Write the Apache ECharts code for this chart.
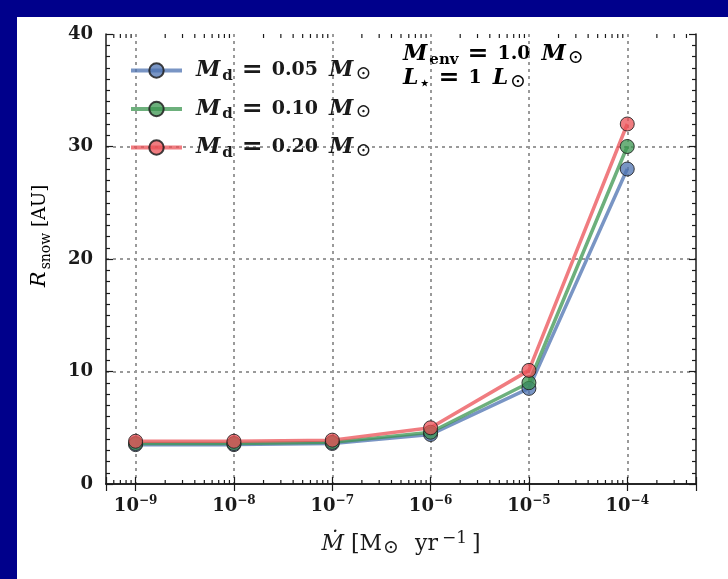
<!DOCTYPE html>
<html>
<head>
<meta charset="utf-8">
<script src="https://cdn.jsdelivr.net/npm/echarts@6/dist/echarts.min.js"></script>
<style>
  html, body { margin: 0; padding: 0; width: 728px; height: 579px; overflow: hidden; background: #00008B; }
  #chart { position: absolute; left: 17px; top: 17px; width: 711px; height: 562px; background: #ffffff; }
</style>
</head>
<body>
<div id="chart"></div>
<script>
// Accretion rates (Msun/yr) and snowline radii (AU) for three disk masses
const accretionRates = [1e-9, 1e-8, 1e-7, 1e-6, 1e-5, 1e-4];
const snowlineMd005 = [3.5, 3.5, 3.6, 4.4, 8.5, 28.0];
const snowlineMd010 = [3.6, 3.6, 3.7, 4.6, 9.0, 30.0];
const snowlineMd020 = [3.8, 3.8, 3.9, 5.0, 10.1, 32.0];
const diskMassLabels = ['0.05', '0.10', '0.20'];
const seriesColors = ['rgba(76,114,176,0.75)', 'rgba(60,150,80,0.75)', 'rgba(235,80,85,0.75)'];

// Axis ranges and tick layout
const xRange = [5e-10, 5e-4];
const yRange = [0, 40];
const yStep = 10;
const minorMultipliers = [2, 3, 4, 5, 6, 7, 8, 9];
const minorDecades = [1e-10, 1e-9, 1e-8, 1e-7, 1e-6, 1e-5, 1e-4];

const SERIF = 'DejaVu Serif';
const INK = '#1a1a1a';

// log-axis minor tick positions (2..9 x 10^n) inside the x range
const minorTicks = [];
minorDecades.forEach(d => minorMultipliers.forEach(m => {
  const v = m * d;
  if (v > xRange[0] * 1.0001 && v < xRange[1] * 0.9999) minorTicks.push([v, 0]);
}));

const seriesData = [snowlineMd005, snowlineMd010, snowlineMd020];
const seriesNames = diskMassLabels.map(m => 'Md' + m);

const tickRich = {
  b: { fontFamily: SERIF, fontWeight: 'bold', fontSize: 18, lineHeight: 22, color: INK },
  sup: { fontFamily: SERIF, fontWeight: 'bold', fontSize: 12, lineHeight: 12, verticalAlign: 'top', color: INK }
};

// rich-text styles for math-like labels
const mathRich = (size, weight) => ({
  it: { fontFamily: SERIF, fontStyle: 'italic', fontWeight: weight, fontSize: size + 3, lineHeight: 26, color: INK, padding: [0, 2, 0, 0] },
  it0: { fontFamily: SERIF, fontStyle: 'italic', fontWeight: weight, fontSize: size + 3, lineHeight: 26, color: INK, padding: [0, 2, 0, 9] },
  n: { fontFamily: SERIF, fontWeight: weight, fontSize: size, lineHeight: 26, color: INK },
  np: { fontFamily: SERIF, fontWeight: weight, fontSize: size, lineHeight: 26, color: INK, padding: [0, 11, 0, 0] },
  eq: { fontFamily: SERIF, fontWeight: weight, fontSize: size + 6, lineHeight: 26, color: INK, padding: [0, 9, 0, 9] },
  sub: { fontFamily: SERIF, fontWeight: weight, fontSize: Math.round(size * 0.78), lineHeight: 15, verticalAlign: 'bottom', color: INK },
  sun: { fontFamily: SERIF, fontWeight: 'normal', fontSize: size, lineHeight: 18, verticalAlign: 'bottom', color: INK },
  sup: { fontFamily: SERIF, fontWeight: weight, fontSize: Math.round(size * 0.72), lineHeight: 15, verticalAlign: 'top', color: INK }
});

const axisTitleRich = {
  it: { fontFamily: SERIF, fontStyle: 'italic', fontSize: 22, lineHeight: 28, color: INK, padding: [0, 7, 0, 0] },
  n: { fontFamily: SERIF, fontSize: 22, lineHeight: 28, color: INK },
  br: { fontFamily: SERIF, fontSize: 22, lineHeight: 28, color: INK },
  sun: { fontFamily: SERIF, fontSize: 19, lineHeight: 18, verticalAlign: 'bottom', color: INK, padding: [0, 16, 0, 1] },
  yr: { fontFamily: SERIF, fontSize: 22, lineHeight: 28, color: INK, padding: [0, 2, 0, 0] },
  sup: { fontFamily: SERIF, fontSize: 17, lineHeight: 16, verticalAlign: 'top', color: INK, padding: [0, 5, 0, 2] }
};

const decadeLabel = v => {
  const e = Math.log10(v);
  const r = Math.round(e);
  if (Math.abs(e - r) > 1e-6) return '';
  return '{b|10}{sup|' + (r < 0 ? '\u2212' : '') + Math.abs(r) + '}';
};

const chart = echarts.init(document.getElementById('chart'), null, { renderer: 'canvas' });

const lineSeries = seriesData.map((vals, i) => ({
  name: seriesNames[i],
  type: 'line',
  xAxisIndex: 0,
  yAxisIndex: 0,
  data: accretionRates.map((x, j) => [x, vals[j]]),
  symbol: 'circle',
  symbolSize: 14,
  lineStyle: { color: seriesColors[i], width: 3.5 },
  itemStyle: { color: seriesColors[i], borderColor: 'rgba(30,30,30,0.85)', borderWidth: 1 },
  emphasis: { disabled: true },
  z: 3
}));

const minorTickSeries = {
  type: 'custom',
  xAxisIndex: 0,
  yAxisIndex: 0,
  data: minorTicks,
  silent: true,
  clip: false,
  z: 10,
  renderItem(params, api) {
    const x = api.coord([api.value(0), 0])[0];
    const cs = params.coordSys;
    const style = { stroke: INK, lineWidth: 1.2 };
    return {
      type: 'group',
      children: [
        { type: 'line', shape: { x1: x, y1: cs.y + cs.height, x2: x, y2: cs.y + cs.height - 4 }, style },
        { type: 'line', shape: { x1: x, y1: cs.y, x2: x, y2: cs.y + 4 }, style }
      ]
    };
  }
};

const gridLine = { show: true, showMinLine: false, showMaxLine: false, lineStyle: { color: '#9a9a9a', width: 2, type: [3, 4] } };
const axisLine = { show: true, lineStyle: { color: INK, width: 1.5 } };

const tr = mathRich(19, 'bold');

chart.setOption({
  animation: false,
  backgroundColor: '#ffffff',
  grid: { left: 89, top: 17, right: 32, bottom: 95, containLabel: false },
  legend: {
    data: seriesNames,
    orient: 'vertical',
    left: 107,
    top: 36,
    itemWidth: 51,
    itemHeight: 18,
    itemGap: 13,
    selectedMode: false,
    lineStyle: { width: 4 },
    formatter: name => {
      const i = seriesNames.indexOf(name);
      return '{it0|M}{sub|d}{eq|=}{np|' + diskMassLabels[i] + '}{it|M}{sun|\u2299}';
    },
    textStyle: { rich: tr }
  },
  xAxis: [
    {
      type: 'log', logBase: 10, min: xRange[0], max: xRange[1], position: 'bottom',
      axisLine, axisTick: { show: true, inside: true, length: 7, lineStyle: { color: INK, width: 1.2 } },
      axisLabel: { show: true, margin: 11, formatter: decadeLabel, rich: tickRich },
      splitLine: gridLine,
      name: '{it|\u1E40}{br|[}{n|M}{sun|\u2299}{yr|yr}{sup|\u22121}{n|]}',
      nameLocation: 'middle', nameGap: 46,
      nameTextStyle: { rich: axisTitleRich }
    },
    {
      type: 'log', logBase: 10, min: xRange[0], max: xRange[1], position: 'top',
      axisLine, axisTick: { show: true, inside: true, length: 7, lineStyle: { color: INK, width: 1.2 } },
      axisLabel: { show: false }, splitLine: { show: false }
    }
  ],
  yAxis: [
    {
      type: 'value', min: yRange[0], max: yRange[1], interval: yStep, position: 'left',
      axisLine, axisTick: { show: true, inside: true, length: 7, lineStyle: { color: INK, width: 1.2 } },
      minorTick: { show: true, splitNumber: 10, length: 4, lineStyle: { color: INK, width: 1.2 } },
      axisLabel: { margin: 13, fontFamily: SERIF, fontWeight: 'bold', fontSize: 18, color: INK },
      splitLine: gridLine
    },
    {
      type: 'value', min: yRange[0], max: yRange[1], interval: yStep, position: 'right',
      axisLine, axisTick: { show: true, inside: true, length: 7, lineStyle: { color: INK, width: 1.2 } },
      minorTick: { show: true, splitNumber: 10, length: 4, lineStyle: { color: INK, width: 1.2 } },
      axisLabel: { show: false }, splitLine: { show: false }
    }
  ],
  graphic: [
    {
      type: 'text', x: 23, y: 219, rotation: Math.PI / 2,
      style: { text: '{it|R}{sub|snow}{n| [AU]}', rich: mathRich(18, 'normal'), align: 'center', verticalAlign: 'middle' }
    },
    {
      type: 'text', left: 386, top: 25,
      style: { text: '{it|M}{sub|env}{eq|=}{np|1.0}{it|M}{sun|\u2299}', rich: tr }
    },
    {
      type: 'text', left: 386, top: 49,
      style: { text: '{it|L}{sub|\u22C6}{eq|=}{np|1}{it|L}{sun|\u2299}', rich: tr }
    }
  ],
  series: [...lineSeries, minorTickSeries]
});
</script>
</body>
</html>
